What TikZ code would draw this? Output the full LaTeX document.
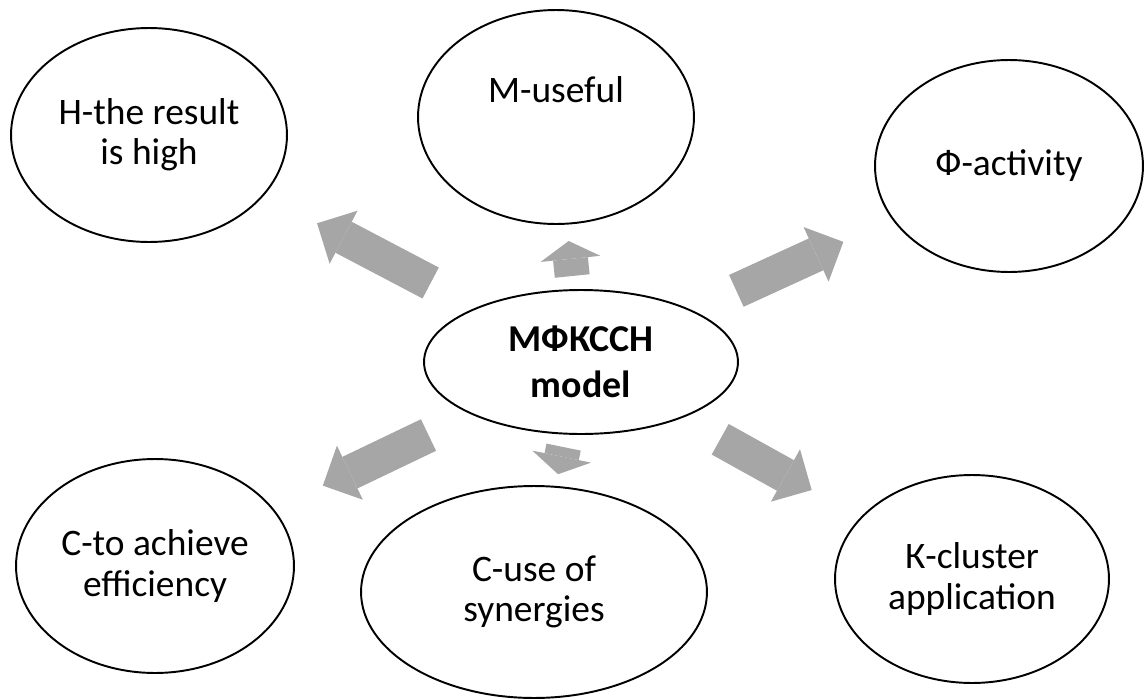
\documentclass[tikz,border=0pt]{standalone}
\usepackage{fontspec}
\setmainfont{Carlito}
\usetikzlibrary{arrows.meta,calc,shapes.geometric}
\definecolor{arrowgray}{HTML}{A6A6A6}

\begin{document}
\begin{tikzpicture}[x=0.02cm,y=-0.02cm,font=\fontsize{21.3}{22.8}\selectfont,
                    part/.style={ellipse,draw,line width=1.1pt,inner sep=0pt,align=center},
                    blockarrow/.style={draw=arrowgray,line width=0.7cm,
                                       -{Triangle[length=#1,width=1.2cm,line width=0pt]}},
                    blockarrow/.default=0.6cm]
  \useasboundingbox (0,0) rectangle (1144,700);

  \node[part,minimum width=6.28cm,minimum height=2.88cm,
        font=\fontsize{21.6}{26.2}\selectfont\bfseries] (model) at (581,362) {МФКССН\\model};
  \node[part,minimum width=5.52cm,minimum height=4.28cm] (high) at (149,135) {Н-the result\\is high};
  \node[part,minimum width=5.52cm,minimum height=4.28cm,
        label={[yshift=0.54cm]center:М-useful}] (useful) at (556,117) {};
  \node[part,minimum width=5.36cm,minimum height=4.24cm] (activity) at (1009,166) {Ф-activity};
  \node[part,minimum width=5.56cm,minimum height=4.28cm] (efficiency) at (155,566) {С-to achieve\\efficiency};
  \node[part,minimum width=6.92cm,minimum height=4.24cm] (synergy) at (534,592) {С-use of\\synergies};
  \node[part,minimum width=5.48cm,minimum height=4.16cm] (cluster) at (972,579) {К-cluster\\application};

  \draw[blockarrow] ($(model)!0.348!(high)$) -- ($(model)!0.611!(high)$);
  \draw[blockarrow=0.36cm] ($(model)!0.351!(useful)$) -- ($(model)!0.494!(useful)$);
  \draw[blockarrow] ($(model)!0.363!(activity)$) -- ($(model)!0.613!(activity)$);
  \draw[blockarrow] ($(model)!0.358!(efficiency)$) -- ($(model)!0.606!(efficiency)$);
  \draw[blockarrow=0.36cm] ($(model)!0.37!(synergy)$) -- ($(model)!0.488!(synergy)$);
  \draw[blockarrow] ($(model)!0.356!(cluster)$) -- ($(model)!0.59!(cluster)$);
\end{tikzpicture}
\end{document}
